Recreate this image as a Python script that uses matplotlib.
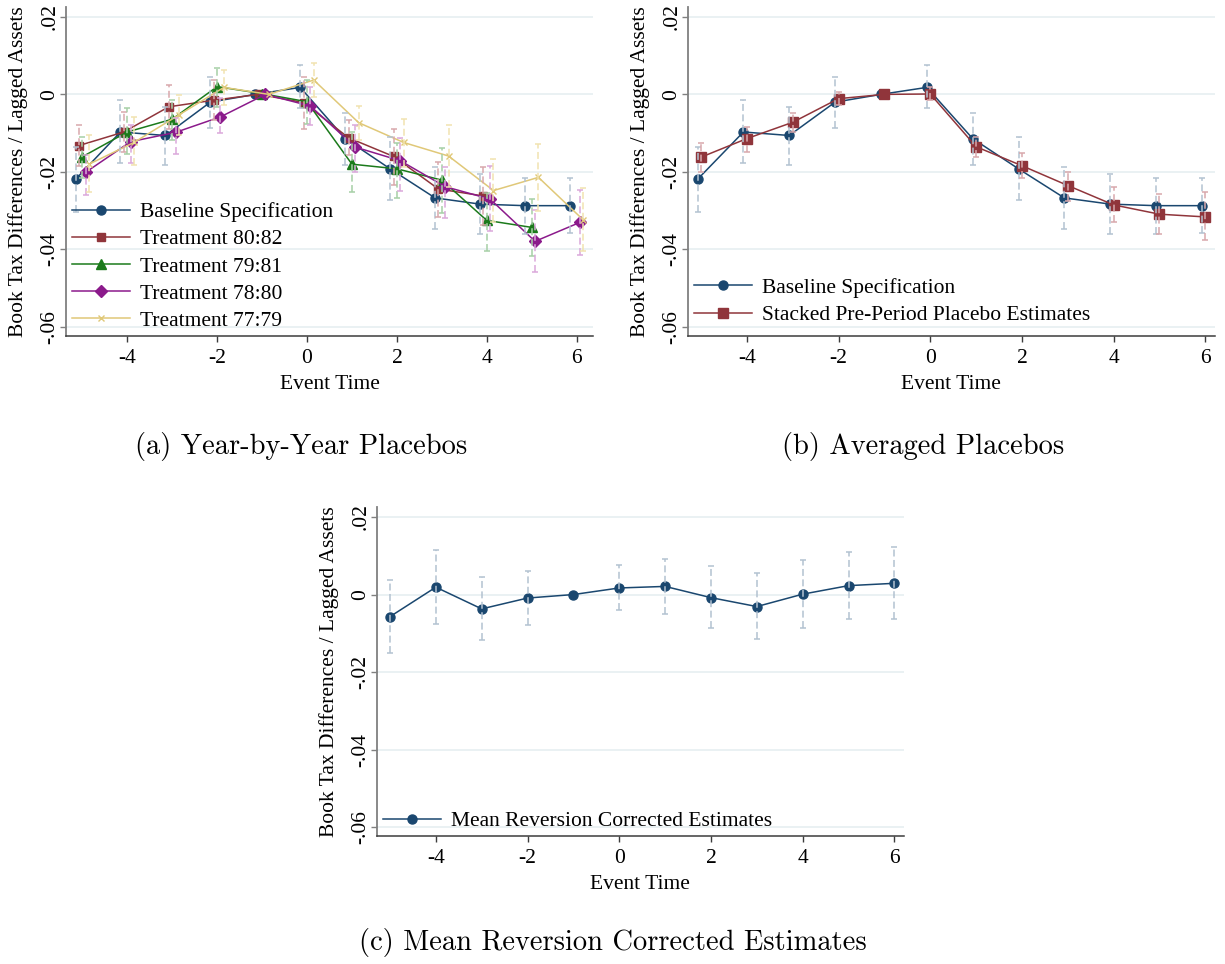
import numpy as np
import matplotlib.pyplot as plt

plt.rcParams['font.family'] = ['Liberation Serif', 'DejaVu Serif']
plt.rcParams['font.size'] = 15.5
plt.rcParams['lines.scale_dashes'] = False

event_time = np.arange(-5, 7)

# baseline event-study estimates and 95% CIs (no CI at the -1 reference year)
baseline = [-0.0219, -0.0097, -0.0106, -0.0020, 0.0, 0.0018, -0.0114, -0.0192, -0.0267, -0.0283, -0.0287, -0.0287]
baseline_lo = [-0.0303, -0.0176, -0.0182, -0.0086, np.nan, -0.0036, -0.0182, -0.0272, -0.0346, -0.0361, -0.0359, -0.0358]
baseline_hi = [-0.0135, -0.0015, -0.0032, 0.0045, np.nan, 0.0076, -0.0047, -0.0111, -0.0188, -0.0206, -0.0215, -0.0216]

# year-by-year placebo treatments
treat_80_82 = [-0.0132, -0.0097, -0.0032, -0.0015, 0.0, -0.0021, -0.0112, -0.0160, -0.0244, -0.0262, np.nan, np.nan]
treat_80_82_lo = [-0.0184, -0.0148, -0.0088, -0.0066, np.nan, -0.0089, -0.0157, -0.0233, -0.0317, -0.0337, np.nan, np.nan]
treat_80_82_hi = [-0.0080, -0.0045, 0.0023, 0.0037, np.nan, 0.0044, -0.0066, -0.0088, -0.0175, -0.0186, np.nan, np.nan]

treat_79_81 = [-0.0161, -0.0097, -0.0064, 0.0020, 0.0002, -0.0019, -0.0180, -0.0192, -0.0221, -0.0325, -0.0343, np.nan]
treat_79_81_lo = [-0.0216, -0.0154, -0.0118, -0.0032, np.nan, -0.0076, -0.0252, -0.0268, -0.0306, -0.0403, -0.0418, np.nan]
treat_79_81_hi = [-0.0109, -0.0036, -0.0015, 0.0067, np.nan, 0.0037, -0.0096, -0.0126, -0.0139, -0.0255, -0.0270, np.nan]

treat_78_80 = [-0.0201, -0.0122, -0.0098, -0.0058, 0.0, -0.0030, -0.0136, -0.0171, -0.0238, -0.0270, -0.0379, -0.0330]
treat_78_80_lo = [-0.0259, -0.0178, -0.0155, -0.0100, np.nan, -0.0079, -0.0199, -0.0249, -0.0319, -0.0352, -0.0459, -0.0414]
treat_78_80_hi = [-0.0156, -0.0079, -0.0062, -0.0010, np.nan, 0.0020, -0.0079, -0.0113, -0.0186, -0.0185, -0.0298, -0.0246]

treat_77_79 = [-0.0180, -0.0124, -0.0053, 0.0018, 0.0, 0.0037, -0.0073, -0.0124, -0.0159, -0.0248, -0.0214, -0.0324]
treat_77_79_lo = [-0.0253, -0.0182, -0.0105, -0.0027, np.nan, -0.0006, -0.0118, -0.0186, -0.0238, -0.0328, -0.0302, -0.0403]
treat_77_79_hi = [-0.0106, -0.0058, -0.0002, 0.0063, np.nan, 0.0080, -0.0029, -0.0064, -0.0079, -0.0167, -0.0128, -0.0242]

# stacked pre-period placebo
stacked = [-0.0162, -0.0114, -0.0072, -0.0011, 0.0, 0.0001, -0.0135, -0.0184, -0.0235, -0.0285, -0.0309, -0.0316]
stacked_lo = [-0.0199, -0.0148, -0.0096, -0.0028, np.nan, -0.0015, -0.0161, -0.0215, -0.0276, -0.0330, -0.0359, -0.0375]
stacked_hi = [-0.0126, -0.0083, -0.0047, 0.0007, np.nan, 0.0020, -0.0109, -0.0152, -0.0199, -0.0240, -0.0258, -0.0253]

# mean reversion corrected
corrected = [-0.0057, 0.0019, -0.0037, -0.0009, 0.0, 0.0017, 0.0021, -0.0008, -0.0031, 0.0001, 0.0023, 0.0029]
corrected_lo = [-0.0151, -0.0077, -0.0117, -0.0079, np.nan, -0.0039, -0.0050, -0.0087, -0.0115, -0.0086, -0.0064, -0.0064]
corrected_hi = [0.0038, 0.0114, 0.0045, 0.0061, np.nan, 0.0076, 0.0092, 0.0074, 0.0055, 0.0089, 0.0110, 0.0122]

y_ticks = [0.02, 0.0, -0.02, -0.04, -0.06]
y_ticklabels = ['.02', '0', '-.02', '-.04', '-.06']
x_ticks = [-4, -2, 0, 2, 4, 6]
x_ticklabels = ['-4', '-2', '0', '2', '4', '6']

NAVY, NAVY_L = '#1a476f', '#b3c2d1'
MAROON, MAROON_L = '#90353b', '#d9a8ac'
GREEN, GREEN_L = '#1b7a1b', '#a6d0a6'
PURPLE, PURPLE_L = '#8b1a8b', '#dba8db'
SAND, SAND_L = '#e0c878', '#f1e3b0'


def draw_series(ax, offset, y, lo, hi, color, light, marker, ms, label):
    x = event_time + offset
    y = np.asarray(y, dtype=float)
    lo = np.asarray(lo, dtype=float)
    hi = np.asarray(hi, dtype=float)
    ax.plot(x, y, color=color, lw=1.1, marker=marker, ms=ms, mec=color, mfc=color,
            label=label, zorder=3)
    ok = ~np.isnan(lo)
    eb = ax.errorbar(x[ok], y[ok], yerr=[y[ok] - lo[ok], hi[ok] - y[ok]], fmt='none',
                     ecolor=light, elinewidth=1.1, capsize=2.3, capthick=1.1, zorder=4)
    for bars in eb[2]:
        bars.set_linestyle((0, (5, 2.5)))


def style_axes(ax, xlim):
    ax.set_xlim(*xlim)
    ax.set_ylim(-0.0623, 0.0226)
    for side in ['top', 'right']:
        ax.spines[side].set_visible(False)
    ax.spines['left'].set_color('#808080')
    ax.spines['left'].set_linewidth(1.3)
    ax.spines['bottom'].set_color('#3c3c3c')
    ax.spines['bottom'].set_linewidth(1.1)
    ax.set_yticks(y_ticks)
    ax.set_yticklabels(y_ticklabels, rotation=90, va='center')
    ax.set_xticks(x_ticks)
    ax.set_xticklabels(x_ticklabels)
    ax.tick_params(axis='y', length=4.5, width=1.0, color='#808080', pad=0)
    ax.tick_params(axis='x', length=4.5, width=1.0, color='#3c3c3c', pad=5)
    ax.yaxis.grid(True, color='#e8f0f2', linewidth=1.3)
    ax.set_axisbelow(True)
    ax.set_ylabel('Book Tax Differences / Lagged Assets', va='center')
    ax.yaxis.set_label_coords(-0.0898, 0.5)
    ax.set_xlabel('Event Time', va='center')
    ax.xaxis.set_label_coords(0.5, -0.1488)


def add_legend(ax, dy):
    ax.legend(loc='lower left', bbox_to_anchor=(0.0125, dy), frameon=False,
              borderpad=0, borderaxespad=0, handlelength=2.68, handletextpad=0.45,
              labelspacing=0.33, fontsize=15.5)


fig = plt.figure(figsize=(12.25, 9.64), dpi=100)

# (a) year-by-year placebos
ax_a = fig.add_axes([0.0536, 0.6515, 0.4307, 0.3415])
draw_series(ax_a, -0.15, baseline, baseline_lo, baseline_hi, NAVY, NAVY_L, 'o', 6.5, 'Baseline Specification')
draw_series(ax_a, -0.075, treat_80_82, treat_80_82_lo, treat_80_82_hi, MAROON, MAROON_L, 's', 6, 'Treatment 80:82')
draw_series(ax_a, 0.0, treat_79_81, treat_79_81_lo, treat_79_81_hi, GREEN, GREEN_L, '^', 7, 'Treatment 79:81')
draw_series(ax_a, 0.075, treat_78_80, treat_78_80_lo, treat_78_80_hi, PURPLE, PURPLE_L, 'D', 6, 'Treatment 78:80')
draw_series(ax_a, 0.15, treat_77_79, treat_77_79_lo, treat_77_79_hi, SAND, SAND_L, 'x', 4, 'Treatment 77:79')
style_axes(ax_a, (-5.37, 6.37))
add_legend(ax_a, 0.015)

# (b) averaged placebos
ax_b = fig.add_axes([0.5614, 0.6515, 0.4304, 0.3415])
draw_series(ax_b, -0.075, baseline, baseline_lo, baseline_hi, NAVY, NAVY_L, 'o', 6.5, 'Baseline Specification')
draw_series(ax_b, 0.0, stacked, stacked_lo, stacked_hi, MAROON, MAROON_L, 's', 6.5, 'Stacked Pre-Period Placebo Estimates')
style_axes(ax_b, (-5.29, 6.21))
add_legend(ax_b, 0.033)

# (c) mean reversion corrected
ax_c = fig.add_axes([0.3075, 0.1328, 0.4305, 0.3413])
draw_series(ax_c, 0.0, corrected, corrected_lo, corrected_hi, NAVY, NAVY_L, 'o', 6.5, 'Mean Reversion Corrected Estimates')
style_axes(ax_c, (-5.29, 6.21))
add_legend(ax_c, 0.015)

cap_font = dict(family='cmr10', fontsize=20.5, ha='center', va='center')
fig.text(0.2457, 0.5373, '(a) Year-by-Year Placebos', **cap_font)
fig.text(0.7535, 0.5373, '(b) Averaged Placebos', **cap_font)
fig.text(0.5004, 0.0228, '(c) Mean Reversion Corrected Estimates', **cap_font)

fig.savefig('out.png', dpi=100)
plt.close(fig)
